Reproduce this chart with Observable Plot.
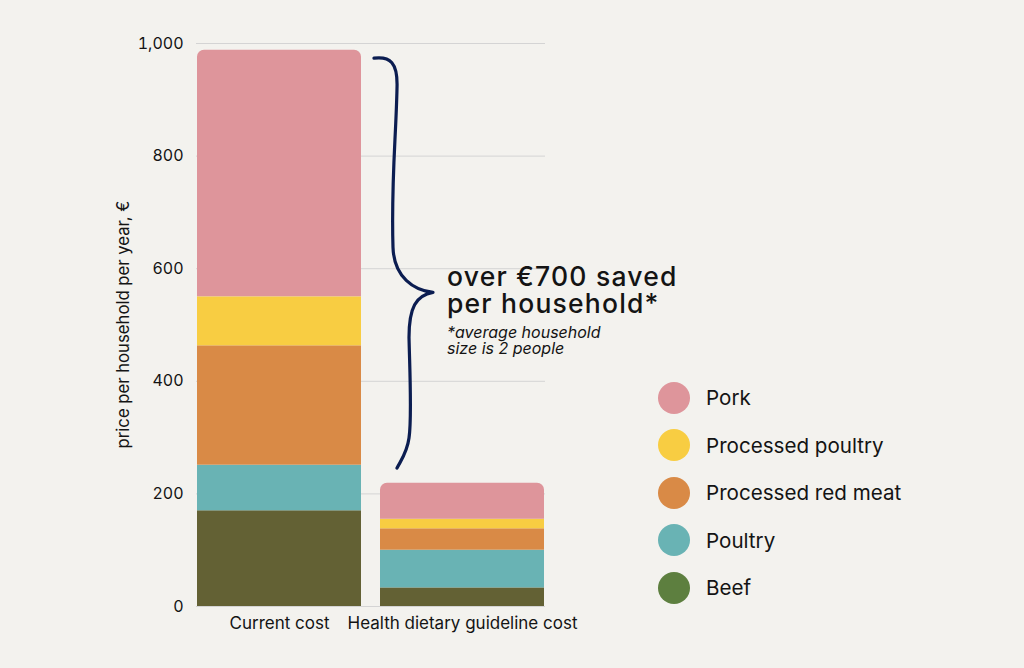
<!DOCTYPE html>
<html><head><meta charset="utf-8">
<script src="https://cdn.jsdelivr.net/npm/d3@7"></script>
<script src="https://cdn.jsdelivr.net/npm/@observablehq/plot@0.6"></script>
<style>
html,body{margin:0;padding:0;background:#f3f2ee;}
#wrap{position:relative;width:1024px;height:668px;font-family:Inter,"Liberation Sans",sans-serif;color:#141414;}
#legend{position:absolute;left:658px;top:374px;}
.row{display:flex;align-items:center;height:47.5px;font-size:20.6px;}
.sw{width:32px;height:32px;border-radius:50%;margin-right:16px;flex:none;}
</style></head>
<body><div id="wrap"><div id="chart"></div><div id="legend"></div></div>
<script>
const categories = ["Current cost", "Health dietary guideline cost"];
const meats = ["Beef", "Poultry", "Processed red meat", "Processed poultry", "Pork"];
const currentCost = [170, 81, 212, 87, 438];
const guidelineCost = [33, 67, 38, 17, 64];
const yTicks = [0, 200, 400, 600, 800, 1000];
const barColors = ["#636134", "#69b3b4", "#d98a46", "#f8cd42", "#de959b"];
const legendColors = ["#5d7f3f", "#69b3b4", "#d98a46", "#f8cd42", "#de959b"];
const braceValues = [973, 557, 245]; // top, tip, bottom of the brace (y values)
const headline = ["over €700 saved", "per household*"];
const footnote = ["*average household", "size is 2 people"];
const yLabel = "price per household per year, €";

const rows = [];
[currentCost, guidelineCost].forEach((vals, ci) => {
  let base = 0;
  vals.forEach((v, mi) => {
    rows.push({category: categories[ci], meat: meats[mi], y1: base, y2: base + v});
    base += v;
  });
});

function annotation(index, scales, values, dim) {
  const x = scales.x, y = scales.y;
  const bw = x.bandwidth ? x.bandwidth() : 165;
  const xs = x(categories[0]) + bw + 13;
  const [yT, yM, yB] = braceValues.map(v => y(v));
  const g = d3.create("svg:g").attr("text-anchor", "start");
  const d = `M${xs},${yT}
    C${xs+16},${yT-2} ${xs+24},${yT+4} ${xs+23},${yT+30}
    C${xs+22},${yT+80} ${xs+17},${yM-110} ${xs+19},${yM-45}
    C${xs+20},${yM-15} ${xs+40},${yM-2} ${xs+59},${yM}
    C${xs+42},${yM+3} ${xs+35},${yM+15} ${xs+35},${yM+45}
    C${xs+36},${yB-90} ${xs+38},${yB-50} ${xs+35},${yB-30}
    C${xs+33},${yB-15} ${xs+27},${yB-8} ${xs+23},${yB}`;
  g.append("path").attr("d", d).attr("fill", "none").attr("stroke", "#0b1d51")
    .attr("stroke-width", 3.2).attr("stroke-linecap", "round").attr("stroke-linejoin", "round");
  const tx = xs + 73;
  headline.forEach((t, i) => g.append("text").attr("x", tx).attr("y", yM - 6 + i * 27)
    .attr("text-anchor", "start").attr("font-size", 26.5).attr("letter-spacing", "1.2px")
    .attr("font-weight", 500).attr("fill", "#141414").text(t));
  footnote.forEach((t, i) => g.append("text").attr("x", tx).attr("y", yM + 46 + i * 15.5)
    .attr("text-anchor", "start").attr("font-size", 16).attr("font-style", "italic")
    .attr("fill", "#141414").text(t));
  const cy = (dim.marginTop + dim.height - dim.marginBottom) / 2;
  const lx = dim.marginLeft - 73;
  g.append("text").attr("transform", `translate(${lx},${cy}) rotate(-90)`)
    .attr("text-anchor", "middle").attr("dy", "0.35em").attr("font-size", 16.7)
    .attr("fill", "#141414").text(yLabel);
  return g.node();
}

const chart = Plot.plot({
  width: 1024,
  height: 668,
  marginLeft: 196,
  marginRight: 479,
  marginTop: 43,
  marginBottom: 62,
  style: {background: "transparent", fontFamily: "Inter, 'Liberation Sans', sans-serif", color: "#141414"},
  x: {domain: categories, paddingInner: 0.103, paddingOuter: 0, label: null},
  y: {domain: [0, 1000], label: null},
  color: {domain: meats, range: barColors},
  marks: [
    Plot.gridY(yTicks, {stroke: "#d4d4d4", strokeOpacity: 1, strokeWidth: 1}),
    Plot.barY(rows.filter(d => d.meat !== "Pork"), {x: "category", y1: "y1", y2: "y2", fill: "meat"}),
    Plot.barY(rows.filter(d => d.meat === "Pork"), {x: "category", y1: "y1", y2: "y2", fill: "meat", ry1: 7}),
    Plot.axisY({ticks: yTicks, tickSize: 0, tickPadding: 13, tickFormat: d3.format(","), fontSize: 16, label: null}),
    Plot.axisX({tickSize: 0, tickPadding: 10, fontSize: 17, label: null}),
    annotation
  ]
});
document.getElementById("chart").appendChild(chart);

const legend = document.getElementById("legend");
meats.map((m, i) => ({m, c: legendColors[i]})).reverse().forEach(({m, c}) => {
  const row = document.createElement("div");
  row.className = "row";
  const sw = document.createElement("div");
  sw.className = "sw";
  sw.style.background = c;
  const lab = document.createElement("span");
  lab.textContent = m;
  row.appendChild(sw);
  row.appendChild(lab);
  legend.appendChild(row);
});
</script></body></html>
